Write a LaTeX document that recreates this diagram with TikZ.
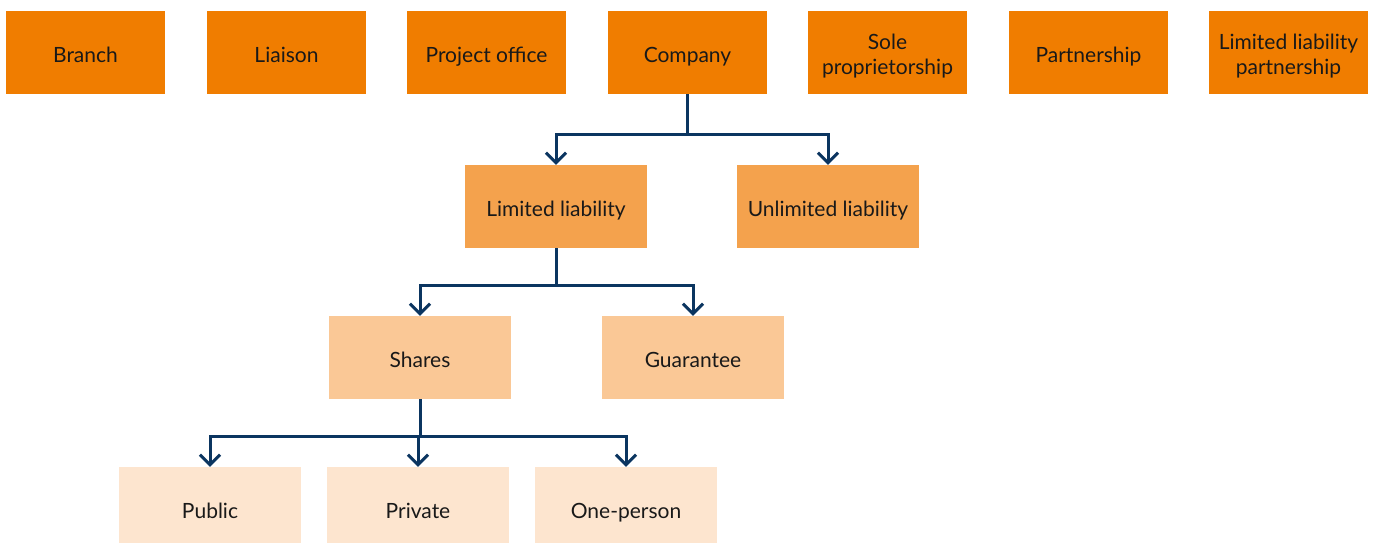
\documentclass[tikz,border=0pt]{standalone}
\usepackage{fontspec}
\setmainfont{Lato}
\usetikzlibrary{arrows.meta}
\definecolor{c1}{HTML}{F07D00}
\definecolor{c2}{HTML}{F4A24D}
\definecolor{c3}{HTML}{FAC896}
\definecolor{c4}{HTML}{FDE5CF}
\definecolor{navy}{HTML}{0B3560}
\begin{document}
\begin{tikzpicture}[x=1pt,y=-1pt,
  box/.style={minimum height=83pt,inner sep=0pt},
  txt/.style={inner sep=0pt,align=center,font=\fontsize{21}{25}\selectfont,text=black!90,text depth=0pt,yshift=-2pt},
  topbox/.style={box,fill=c1,minimum width=159pt},
  lvl2/.style={box,fill=c2,minimum width=182pt},
  lvl3/.style={box,fill=c3,minimum width=182pt},
  lvl4/.style={box,fill=c4,minimum width=182pt},
  conn/.style={navy,line width=3pt},
  arr/.style={conn,-{Straight Barb[length=10pt,width=20pt,line width=3pt]}}]
\useasboundingbox (0,0) rectangle (1373,542);
\begin{scope}
\clip (0,0) rectangle (1373,542);
\node[topbox,label={[txt]center:Branch}] (branch) at (85.5,52.5) {};
\node[topbox,label={[txt]center:Liaison}] (liaison) at (286.5,52.5) {};
\node[topbox,label={[txt]center:Project office}] (project) at (486.5,52.5) {};
\node[topbox,label={[txt]center:Company}] (company) at (687.5,52.5) {};
\node[topbox,label={[txt]center:{Sole\\proprietorship}}] (sole) at (887.5,52.5) {};
\node[topbox,label={[txt]center:Partnership}] (partner) at (1088.5,52.5) {};
\node[topbox,label={[txt]center:{Limited liability\\partnership}}] (llp) at (1288.5,52.5) {};
\node[lvl2,label={[txt]center:Limited liability}] (limited) at (556,206.5) {};
\node[lvl2,label={[txt]center:Unlimited liability}] (unlimited) at (828,206.5) {};
\node[lvl3,label={[txt]center:Shares}] (shares) at (420,357.5) {};
\node[lvl3,label={[txt]center:Guarantee}] (guarantee) at (693,357.5) {};
\node[lvl4,label={[txt]center:Public}] (public) at (210,508.5) {};
\node[lvl4,label={[txt]center:Private}] (private) at (418,508.5) {};
\node[lvl4,label={[txt]center:One-person}] (oneperson) at (626,508.5) {};
\end{scope}
\coordinate (j1) at (687,134);
\coordinate (j2) at (556,285);
\coordinate (j3) at (420,436);
\draw[conn] (company.south -| j1) -- (j1);
\draw[arr] (j1) -| (limited.north);
\draw[arr] (j1) -| (unlimited.north);
\draw[conn] (limited.south) -- (j2);
\draw[arr] (j2) -| (shares.north);
\draw[arr] (j2) -| (guarantee.north);
\draw[conn] (shares.south) -- (j3);
\draw[arr] (j3) -| (public.north);
\draw[arr] (j3) -| (private.north);
\draw[arr] (j3) -| (oneperson.north);
\end{tikzpicture}
\end{document}
